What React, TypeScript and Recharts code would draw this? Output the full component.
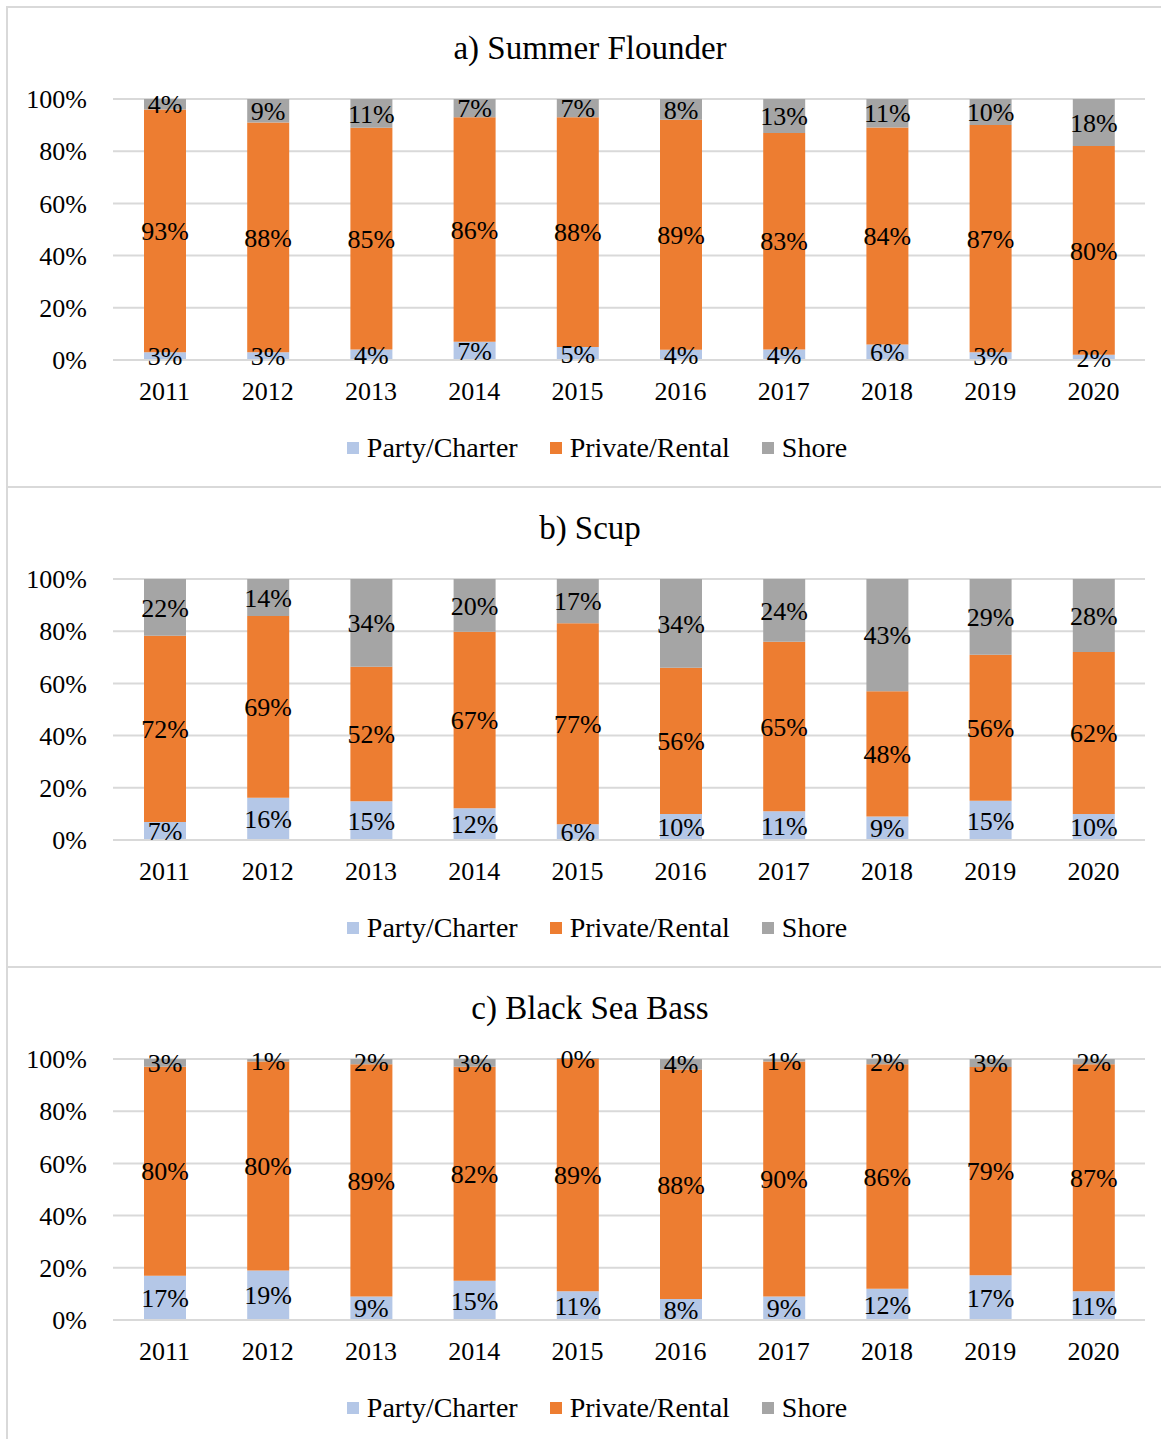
import React from 'react';
import { BarChart, Bar, CartesianGrid, XAxis, YAxis, LabelList } from 'recharts';

const years = ['2011', '2012', '2013', '2014', '2015', '2016', '2017', '2018', '2019', '2020'];
const yTicks = [0, 0.2, 0.4, 0.6, 0.8, 1];

// Summer Flounder (percent of trips by mode)
const flounderParty = [3, 3, 4, 7, 5, 4, 4, 6, 3, 2];
const flounderPrivate = [93, 88, 85, 86, 88, 89, 83, 84, 87, 80];
const flounderShore = [4, 9, 11, 7, 7, 8, 13, 11, 10, 18];

// Scup
const scupParty = [7, 16, 15, 12, 6, 10, 11, 9, 15, 10];
const scupPrivate = [72, 69, 52, 67, 77, 56, 65, 48, 56, 62];
const scupShore = [22, 14, 34, 20, 17, 34, 24, 43, 29, 28];

// Black Sea Bass
const bassParty = [17, 19, 9, 15, 11, 8, 9, 12, 17, 11];
const bassPrivate = [80, 80, 89, 82, 89, 88, 90, 86, 79, 87];
const bassShore = [3, 1, 2, 3, 0, 4, 1, 2, 3, 2];

const COLORS = { party: '#B4C7E7', private: '#ED7D31', shore: '#A5A5A5' };
const FONT = '"Liberation Serif", "Times New Roman", serif';
const GRID = '#D9D9D9';

const buildRows = (pc: number[], pr: number[], sh: number[]) =>
    years.map((year, i) => ({ year, pc: pc[i], pr: pr[i], sh: sh[i] }));

const panels = [
    { title: 'a) Summer Flounder', rows: buildRows(flounderParty, flounderPrivate, flounderShore) },
    { title: 'b) Scup', rows: buildRows(scupParty, scupPrivate, scupShore) },
    { title: 'c) Black Sea Bass', rows: buildRows(bassParty, bassPrivate, bassShore) },
];

const legendItems = [
    { label: 'Party/Charter', color: COLORS.party },
    { label: 'Private/Rental', color: COLORS.private },
    { label: 'Shore', color: COLORS.shore },
];

const pct = (v: any) => `${v}%`;

const Panel: React.FC<{ title: string; rows: any[] }> = ({ title, rows }) => (
    <div style={{ position: 'relative', width: 1155, height: 478, borderTop: `2px solid ${GRID}`, borderLeft: `2px solid ${GRID}` }}>
        <div style={{ position: 'absolute', left: 282, top: 20, width: 600, textAlign: 'center', fontFamily: FONT, fontSize: 33, lineHeight: '40px', color: '#000' }}>
            {title}
        </div>
        <BarChart width={1153} height={478} data={rows} stackOffset="expand" margin={{ top: 91, right: 16, left: 0, bottom: 96 }}>
            <CartesianGrid vertical={false} stroke={GRID} strokeWidth={2} />
            <XAxis dataKey="year" height={30} tickLine={false} axisLine={{ stroke: GRID, strokeWidth: 2 }} tickMargin={16}
                tick={{ fill: '#000', fontSize: 26, fontFamily: FONT }} />
            <YAxis width={105} domain={[0, 1]} ticks={yTicks} tickLine={false} axisLine={false} tickMargin={20}
                tickFormatter={(v: number) => `${Math.round(v * 100)}%`}
                tick={{ fill: '#000', fontSize: 26, fontFamily: FONT }} />
            <Bar dataKey="pc" stackId="a" fill={COLORS.party} barSize={42} isAnimationActive={false}>
                <LabelList dataKey="pc" position="center" formatter={pct} fill="#000" fontSize={26} fontFamily={FONT} />
            </Bar>
            <Bar dataKey="pr" stackId="a" fill={COLORS.private} barSize={42} isAnimationActive={false}>
                <LabelList dataKey="pr" position="center" formatter={pct} fill="#000" fontSize={26} fontFamily={FONT} />
            </Bar>
            <Bar dataKey="sh" stackId="a" fill={COLORS.shore} barSize={42} minPointSize={1} isAnimationActive={false}>
                <LabelList dataKey="sh" position="center" formatter={pct} fill="#000" fontSize={26} fontFamily={FONT} />
            </Bar>
        </BarChart>
        <div style={{ position: 'absolute', left: 0, width: 1178, top: 424, height: 32, display: 'flex', justifyContent: 'center', alignItems: 'center', gap: 32, fontFamily: FONT, fontSize: 28 }}>
            {legendItems.map((item) => (
                <div key={item.label} style={{ display: 'flex', alignItems: 'center' }}>
                    <span style={{ display: 'inline-block', width: 12, height: 12, background: item.color, marginRight: 8 }} />
                    <span>{item.label}</span>
                </div>
            ))}
        </div>
    </div>
);

export default function App() {
    return (
        <div style={{ position: 'absolute', left: 6, top: 6, width: 1155, height: 1433, overflow: 'hidden', background: '#fff' }}>
            {panels.map((p) => (
                <Panel key={p.title} title={p.title} rows={p.rows} />
            ))}
        </div>
    );
}
